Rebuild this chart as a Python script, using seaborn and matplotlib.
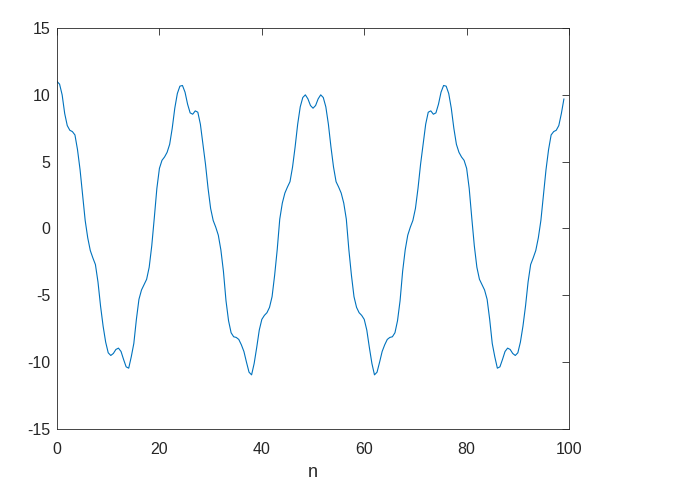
import numpy as np
import pandas as pd
import seaborn as sns
import matplotlib
matplotlib.use("Agg")
import matplotlib.pyplot as plt

# ------------------------------------------------------
# data read off the reference (sampled every 0.5 in n)
# ------------------------------------------------------
n = np.arange(0, 99.5, 0.5)

x_first = [
    11.0, 10.8, 10.0, 8.6, 7.7, 7.35, 7.25, 7.0, 5.9, 4.4,
    2.5, 0.6, -0.7, -1.65, -2.2, -2.7, -4.0, -5.8, -7.3, -8.5,
    -9.3, -9.5, -9.35, -9.05, -8.95, -9.2, -9.8, -10.35, -10.45, -9.6,
    -8.6, -6.8, -5.3, -4.6, -4.2, -3.8, -2.9, -1.3, 0.8, 3.0,
    4.5, 5.1, 5.35, 5.7, 6.3, 7.5, 9.0, 10.1, 10.65, 10.7,
    10.2, 9.3, 8.65, 8.55, 8.8, 8.7, 7.8, 6.3, 4.8, 3.0,
    1.5, 0.6, 0.1, -0.5, -1.6, -3.2, -5.4, -6.9, -7.8, -8.1,
    -8.15, -8.3, -8.7, -9.2, -10.0, -10.75, -10.95, -10.1, -8.9, -7.6,
    -6.8, -6.5, -6.3, -5.9, -5.1, -3.5, -1.6, 0.7, 1.9, 2.65,
    3.1, 3.5, 4.6, 6.1, 7.8, 9.1, 9.8, 10.0, 9.7, 9.2,
    9.0,
]

x_second = [
    9.2, 9.7, 10.0, 9.8, 9.1, 7.8, 6.1, 4.6, 3.5, 3.1,
    2.65, 1.9, 0.7, -1.6, -3.5, -5.1, -5.9, -6.3, -6.5, -6.8,
    -7.6, -8.9, -10.1, -10.95, -10.75, -10.0, -9.2, -8.7, -8.3, -8.15,
    -8.1, -7.8, -6.9, -5.4, -3.2, -1.6, -0.5, 0.1, 0.6, 1.5,
    3.0, 4.8, 6.3, 7.8, 8.7, 8.8, 8.55, 8.65, 9.3, 10.2,
    10.7, 10.65, 10.1, 9.0, 7.5, 6.3, 5.7, 5.35, 5.1, 4.5,
    3.0, 0.8, -1.3, -2.9, -3.8, -4.2, -4.6, -5.3, -6.8, -8.6,
    -9.6, -10.45, -10.35, -9.8, -9.2, -8.95, -9.05, -9.35, -9.5, -9.3,
    -8.5, -7.3, -5.8, -4.0, -2.7, -2.2, -1.65, -0.7, 0.6, 2.5,
    4.4, 5.9, 7.0, 7.25, 7.35, 7.7, 8.6, 9.7,
]

x_ticks = [0, 20, 40, 60, 80, 100]
y_ticks = [-15, -10, -5, 0, 5, 10, 15]

df = pd.DataFrame({"n": n, "x": x_first + x_second})

# ------------------------------------------------------
# plot
# ------------------------------------------------------
sns.set_style("white")
plt.rcParams['font.family'] = ['Liberation Sans', 'DejaVu Sans']
plt.rcParams['axes.unicode_minus'] = False

axis_col = "#262626"
fig = plt.figure(figsize=(6.78, 4.94), dpi=100)
ax = fig.add_axes([0.0841, 0.1316, 0.7552, 0.8117])

sns.lineplot(data=df, x="n", y="x", color="#0072BD", linewidth=0.8, ax=ax)

ax.set_xlim(0, 100)
ax.set_ylim(-15, 15)
ax.set_xticks(x_ticks)
ax.set_yticks(y_ticks)
ax.set_xlabel("n", fontsize=13, color=axis_col, labelpad=5)
ax.set_ylabel("")

for sp in ax.spines.values():
    sp.set_visible(True)
    sp.set_color(axis_col)
    sp.set_linewidth(0.6)

ax.tick_params(direction="in", length=5, width=0.6, colors=axis_col,
               labelsize=11.5, top=True, right=True)
ax.tick_params(axis="x", pad=9.5)
ax.tick_params(axis="y", pad=5)
for lbl in ax.get_xticklabels() + ax.get_yticklabels():
    lbl.set_color(axis_col)

plt.savefig("out.png", dpi=100)
